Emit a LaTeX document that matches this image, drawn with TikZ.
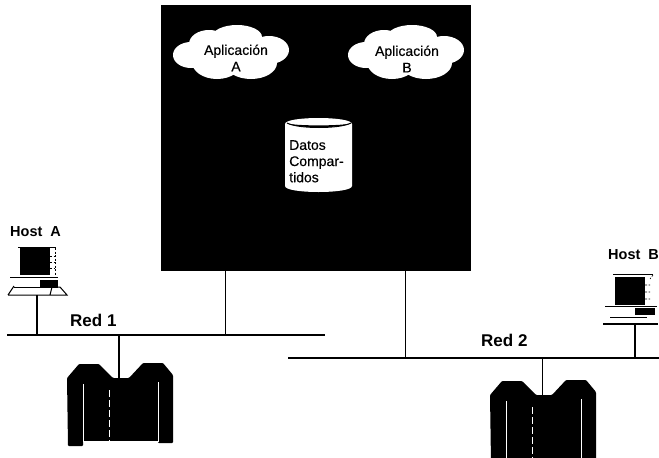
\documentclass[tikz,border=0pt]{standalone}
\usepackage{fontspec}
\setmainfont{Liberation Sans}
\newfontfamily\midfont[FakeBold=0.4]{Liberation Sans}
\tikzset{
  thinline/.style={line width=0.8pt,black},
  busline/.style={line width=1.4pt,black},
  drop/.style={line width=1.3pt,black},
  lbl/.style={inner sep=0pt,anchor=base west,font=\bfseries\fontsize{14.5}{18}\selectfont},
  redlbl/.style={inner sep=0pt,anchor=base west,font=\bfseries\fontsize{17}{20}\selectfont},
  applbl/.style={inner sep=0pt,align=center,font=\midfont\fontsize{14}{16.5}\selectfont},
  datalbl/.style={inner sep=0pt,align=left,anchor=north west,font=\midfont\fontsize{14}{16.2}\selectfont},
  mainframe/.pic={
    \fill[black,rounded corners=1pt] (0,14) -- (12,0) -- (32,0) -- (46,14) -- (62,14) -- (76,-1) -- (96,-1) -- (106,11)
      -- (106,79) -- (91,79) -- (91,77) -- (16,77) -- (16,82) -- (1,82) -- cycle;
    \draw[white,line width=0.4pt] (16,20) -- (16,77) -- (91,77) -- (91,18);
    \draw[white,line width=0.35pt,dash pattern=on 7pt off 3pt] (42,26) -- (42,77);
  },
  cloudpic/.pic={
    \fill[white] (-40,3) ellipse [x radius=18,y radius=13];
    \fill[white] (-22,-8) ellipse [x radius=20,y radius=14];
    \fill[white] (6,-15) ellipse [x radius=25,y radius=12];
    \fill[white] (38,-2) ellipse [x radius=20,y radius=14];
    \fill[white] (-14,10) ellipse [x radius=25,y radius=17];
    \fill[white] (20,11) ellipse [x radius=26,y radius=16];
    \fill[white] (0,0) ellipse [x radius=34,y radius=18];
  }
}
\begin{document}
\begin{tikzpicture}[x=1pt,y=-1pt]
\useasboundingbox (0,0) rectangle (659,458);
\fill[white] (0,0) rectangle (659,458);

% server box
\fill[black] (161,5) rectangle (471,271);
\coordinate (boxA) at (225,271);
\coordinate (boxB) at (405,271);

% clouds
\pic at (231,52) {cloudpic};
\pic at (406,52) {cloudpic};
\node[applbl] (appA) at (236,58) {Aplicación\\A};
\node[applbl] (appB) at (407,59) {Aplicación\\B};

% cylinder
\fill[white] (285,124) -- (285,186) .. controls (285,194) and (352,194) .. (352,186) -- (352,124) .. controls (352,116) and (285,116) .. (285,124) -- cycle;
\fill[black] (288,123.5) .. controls (296,128.5) and (341,128.5) .. (350,123.5) .. controls (341,126) and (296,126) .. (288,123.5) -- cycle;
\draw[black,line width=1pt] (287,123) .. controls (298,129) and (340,129) .. (351,123);
\node[datalbl] (datos) at (289,140) {Datos\\Compar-\\tidos};

% buses
\coordinate (b1l) at (7,335);
\coordinate (b1r) at (325,335);
\coordinate (b2l) at (288,358);
\coordinate (b2r) at (659,358);
\draw[busline] (b1l) -- (b1r);
\draw[busline] (b2l) -- (b2r);
\node[redlbl] (red1) at (70,326) {Red 1};
\node[redlbl] (red2) at (481,346) {Red 2};

% box connections
\draw[thinline] (boxA) -- (boxA |- b1l);
\draw[thinline] (boxB) -- (boxB |- b2l);

% mainframes
\pic at (67,364) {mainframe};
\pic at (490,381) {mainframe};
\coordinate (mf1) at (119,379);
\coordinate (mf2) at (542,395);
\draw[drop] (mf1 |- b1l) -- (mf1);
\draw[thinline] (mf2 |- b2l) -- (mf2);

% Host A
\node[lbl] (hostA) at (10,236) {Host\hspace{8pt}A};
\draw[black,line width=0.7pt] (18,247) -- (56,247);
\fill[black] (20,248) rectangle (50,275);
\draw[black,line width=0.6pt,dash pattern=on 2pt off 1.5pt] (50,256) -- (55,256) (50,262) -- (55,262) (50,268) -- (55,268) (55,248) -- (55,275);
\draw[black,line width=0.8pt] (10,277) -- (58,277);
\fill[black] (40,280) rectangle (58,288);
\draw[black,line width=0.9pt] (14,287) -- (52,287);
\draw[black,line width=1pt] (8,295) -- (14,286) (8,295) -- (67,295) -- (60,287) -- (52,287) -- (50,295);
\coordinate (hA) at (37,295);
\draw[drop] (hA) -- (hA |- b1l);

% Host B
\node[lbl] (hostB) at (608,259) {Host\hspace{8pt}B};
\draw[black,line width=0.7pt] (613,274) -- (653,274);
\fill[black] (615,277) rectangle (645,305);
\draw[black,line width=0.6pt,dash pattern=on 2pt off 1.5pt] (645,285) -- (650,285) (645,292) -- (650,292) (645,299) -- (650,299) (653,275) -- (650,279);
\draw[black,line width=0.9pt] (605,306) -- (657,306);
\fill[black] (635,308) rectangle (655,315);
\draw[black,line width=0.6pt] (610,317) -- (647,317);
\draw[black,line width=1.6pt] (603,324) -- (658,324);
\coordinate (hB) at (635,325);
\draw[drop] (hB) -- (hB |- b2l);
\end{tikzpicture}
\end{document}
